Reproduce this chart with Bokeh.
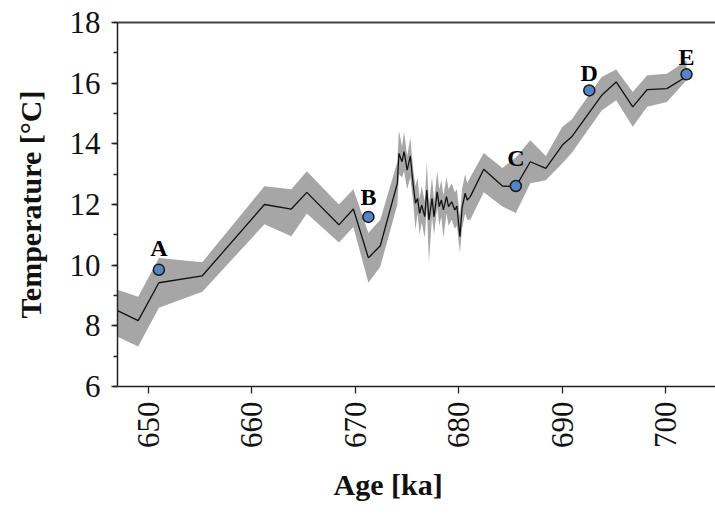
import math
from bokeh.plotting import figure
from bokeh.models import Range1d, SingleIntervalTicker, FixedTicker, LinearAxis, ColumnDataSource, Title
from bokeh.core.properties import value
from bokeh.embed import file_html
from bokeh.resources import INLINE

# ---- data ----
age = [647.0, 649.0, 651.0, 655.2, 661.2, 663.8, 665.3, 668.4, 669.8, 671.25,
       672.4, 674.05, 674.2, 674.5, 674.7, 675.0, 675.3, 675.6, 675.8, 676.0,
       676.2, 676.4, 676.7, 676.9, 677.1, 677.4, 677.6, 677.9, 678.1, 678.3,
       678.5, 678.8, 679.0, 679.3, 679.6, 679.8, 680.1, 680.3, 680.6, 680.8,
       681.1, 682.4, 684.2, 685.5, 686.9, 688.4, 690.0, 690.9, 693.8, 695.2,
       696.8, 698.2, 700.1, 702.0]
temp = [8.50, 8.17, 9.42, 9.65, 12.0, 11.85, 12.4, 11.33, 11.85, 10.24,
        10.64, 12.7, 13.68, 13.41, 13.74, 13.13, 13.6, 12.59, 12.04, 12.2,
        11.71, 11.98, 11.6, 12.48, 11.49, 12.2, 11.6, 12.42, 11.93, 12.15,
        11.82, 12.26, 11.93, 12.09, 11.82, 11.95, 10.94, 11.88, 12.37, 12.15,
        12.26, 13.16, 12.61, 12.59, 13.41, 13.19, 13.96, 14.23, 15.6, 16.04,
        15.22, 15.79, 15.82, 16.22]
temp_upper = [9.19, 8.96, 10.24, 10.1, 12.6, 12.5, 13.1, 12.0, 12.5, 11.06,
              11.5, 13.4, 14.45, 13.9, 14.4, 13.6, 14.2, 13.1, 12.6, 12.9,
              12.2, 12.6, 12.1, 13.4, 12.0, 12.9, 12.1, 13.1, 12.5, 12.8,
              12.3, 12.9, 12.5, 12.7, 12.4, 12.5, 11.6, 12.5, 13.0, 12.7,
              12.9, 13.7, 13.2, 13.55, 14.12, 13.6, 14.56, 14.8, 16.2, 16.45,
              15.71, 16.26, 16.31, 16.75]
temp_lower = [7.64, 7.32, 8.6, 9.12, 11.35, 10.95, 11.7, 10.75, 11.26, 9.42,
              9.95, 12.0, 13.0, 12.9, 13.1, 12.5, 12.9, 12.0, 11.16, 11.7,
              11.0, 11.4, 10.9, 11.9, 10.1, 11.6, 11.0, 11.9, 11.3, 11.6,
              10.9, 11.7, 11.3, 11.5, 11.2, 11.3, 10.4, 11.2, 11.7, 11.5,
              11.5, 12.4, 11.93, 11.72, 12.7, 12.8, 13.36, 13.7, 15.1, 15.44,
              14.56, 15.22, 15.38, 16.1]

marker_age = [651.0, 671.25, 685.5, 692.6, 702.0]
marker_temp = [9.85, 11.59, 12.61, 15.76, 16.29]
marker_label = ["A", "B", "C", "D", "E"]

x_ticks_interval = 10
y_ticks_interval = 2

# style: vertical offset of each letter above its marker (px)
label_offsets = [-22, -20, -28, -17, -17]

SERIF = "Liberation Serif"

p = figure(width=715, height=514,
           x_range=Range1d(647.0, 704.8), y_range=Range1d(6, 18),
           output_backend="svg", toolbar_location=None,
           min_border_left=117, min_border_right=0,
           min_border_top=22, min_border_bottom=127)

p.grid.visible = False
p.outline_line_color = None
p.background_fill_color = "white"
p.border_fill_color = "white"

# band + line
p.varea(x=age, y1=temp_lower, y2=temp_upper, fill_color="#a6a6a6", fill_alpha=1.0)
p.line(age, temp, line_color="#111111", line_width=1.3)

# markers + letters
src = ColumnDataSource(dict(x=marker_age, y=marker_temp, t=marker_label, off=label_offsets))
p.scatter("x", "y", source=src, size=11, fill_color="#5585c8",
          line_color="#1a1a1a", line_width=1.5)
p.text("x", "y", text="t", source=src, y_offset="off",
       text_align="center", text_baseline="alphabetic",
       text_font=value(SERIF), text_font_style="bold",
       text_font_size="24px", text_color="black")

# axes
xa = p.xaxis[0]
xa.ticker = SingleIntervalTicker(interval=x_ticks_interval, num_minor_ticks=0)
xa.major_label_orientation = math.pi / 2
xa.minor_tick_line_color = None
xa.major_tick_in = 0
xa.major_tick_out = 7
xa.major_label_standoff = 8

ya = p.yaxis[0]
ya.ticker = SingleIntervalTicker(interval=y_ticks_interval, num_minor_ticks=2)
ya.axis_label = "Temperature [°C]"
ya.major_tick_in = 0
ya.major_tick_out = 6
ya.minor_tick_in = 0
ya.minor_tick_out = 4
ya.major_label_standoff = 11

for ax in (xa, ya):
    ax.axis_line_color = "#222222"
    ax.axis_line_width = 1.5
    ax.major_tick_line_color = "#222222"
    ax.major_tick_line_width = 1.3
    ax.minor_tick_line_width = 1.3
    ax.major_label_text_font = SERIF
    ax.major_label_text_font_size = "31px"
    ax.major_label_text_color = "#111111"
    ax.axis_label_text_font = SERIF
    ax.axis_label_text_font_style = "bold"
    ax.axis_label_text_font_size = "30px"
    ax.axis_label_text_color = "#111111"
ya.minor_tick_line_color = "#222222"
ya.axis_label_standoff = 20

# x-axis title, placed like the reference (slightly left of frame centre)
xtitle = Title(text="Age [ka]", align="left", offset=216, standoff=28,
               text_font=SERIF, text_font_style="bold", text_font_size="30px",
               text_color="#111111")
p.add_layout(xtitle, "below")

top = LinearAxis(ticker=FixedTicker(ticks=[]), major_label_text_font_size="0px",
                 axis_line_color="#444444", axis_line_width=2,
                 major_tick_line_color=None, minor_tick_line_color=None)
p.add_layout(top, "above")

open("out.html", "w").write(file_html(p, INLINE))
